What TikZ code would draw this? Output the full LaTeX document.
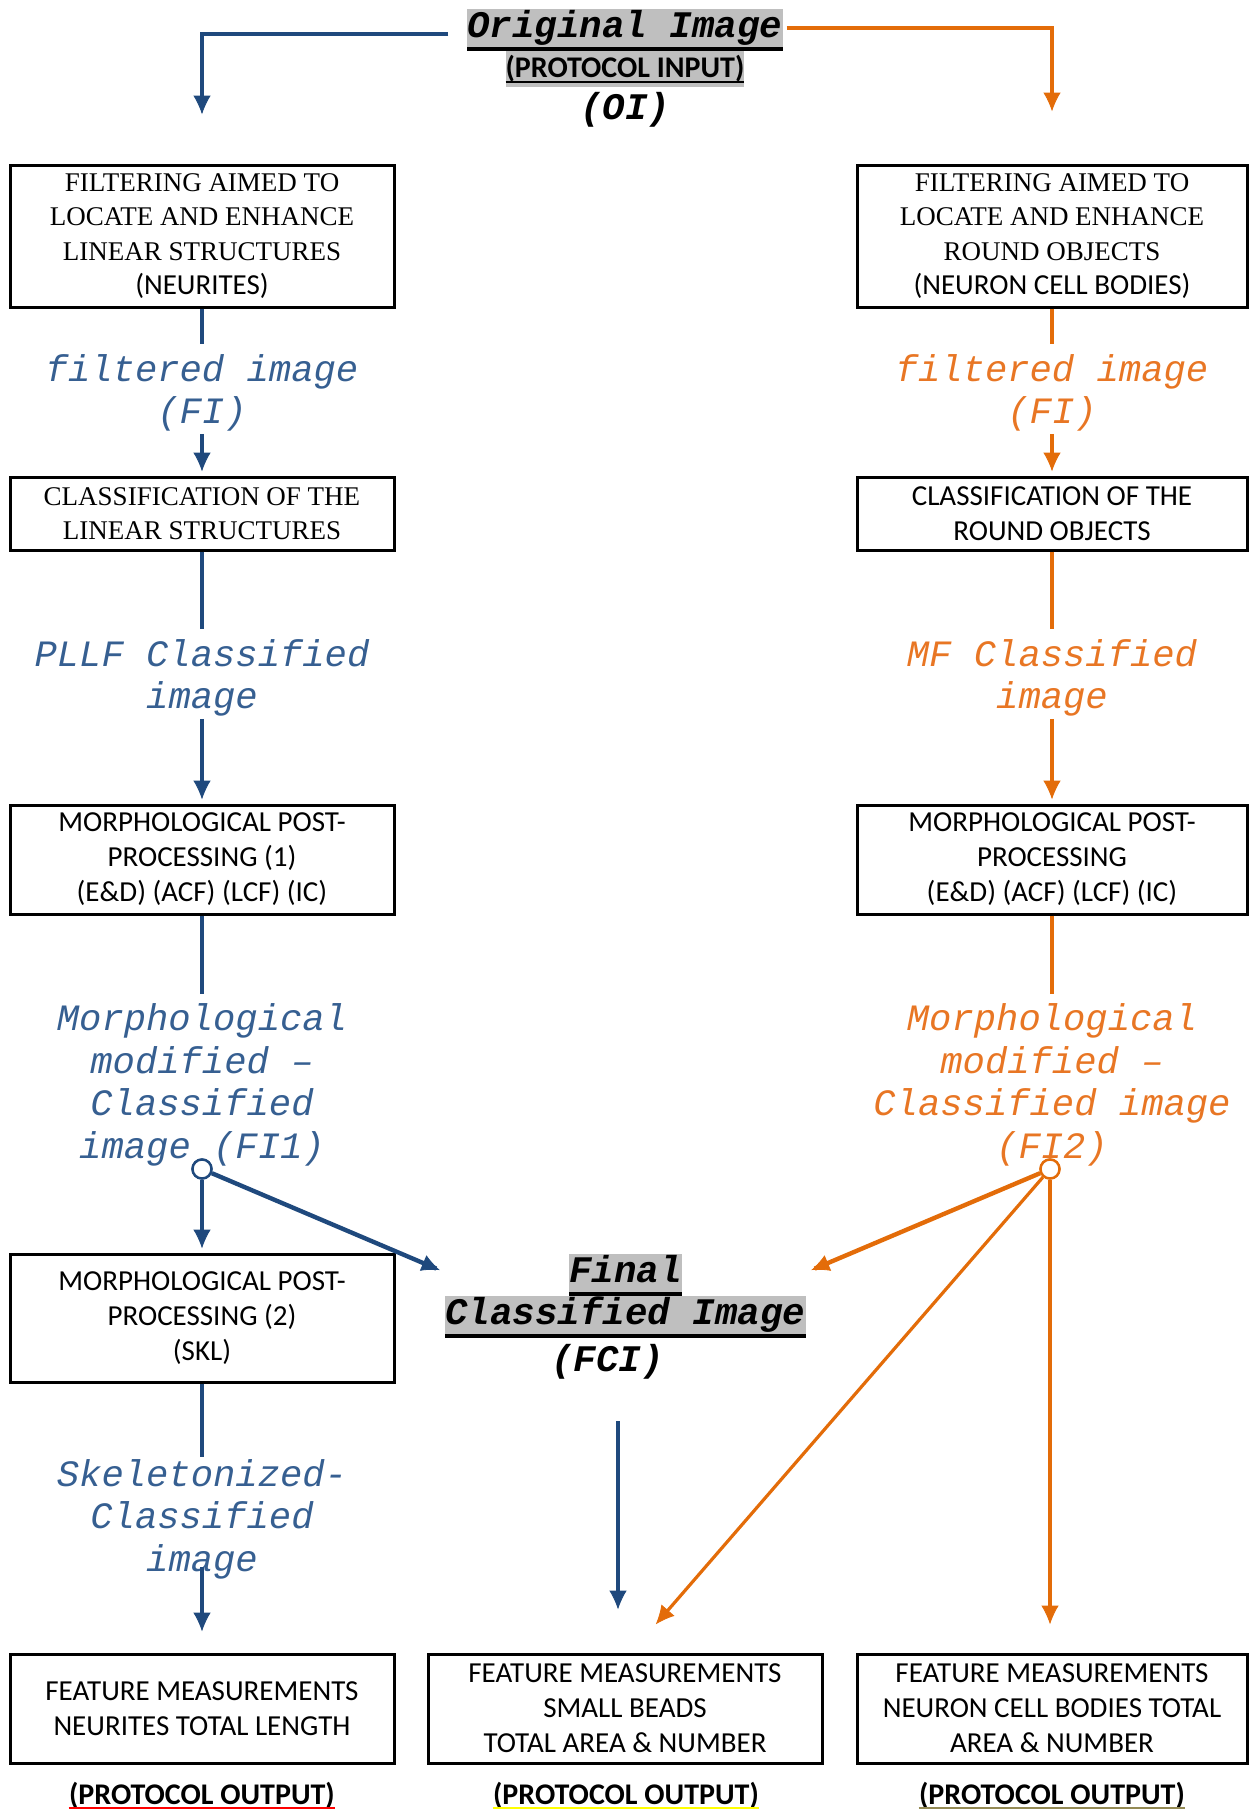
\documentclass[tikz,border=0pt]{standalone}
\usepackage{fontspec}
\setmainfont{Carlito}
\newfontfamily\courierfont{Liberation Mono}
\newfontfamily\cambriafont{Liberation Serif}
\newfontfamily\calibrifont{Carlito}
\newcommand{\calfont}{\calibrifont\fontsize{14.5}{17.25}\selectfont}
\usepackage{xcolor}
\definecolor{dblue}{RGB}{31,73,125}
\definecolor{tblue}{RGB}{54,95,145}
\definecolor{dorange}{RGB}{227,108,9}
\definecolor{torange}{RGB}{232,118,36}
\definecolor{hgray}{RGB}{191,191,191}
\definecolor{uyellow}{RGB}{255,255,0}
\definecolor{uolive}{RGB}{148,138,84}
\usetikzlibrary{positioning, calc, arrows.meta, decorations.markings}
\tikzstyle{ArrowBlue} = [
line width=1.6pt,
dblue,
decoration={
markings,
mark=at position 0.9999 with {
\arrow[dblue]{Latex[length=12pt, width=11pt]}}},
shorten >= 5pt, preaction = {decorate}]
\tikzstyle{ArrowBlueThick} = [
line width=2.2pt,
dblue,
decoration={
markings,
mark=at position 0.9999 with {
\arrow[dblue]{Latex[length=13pt, width=12pt]}}},
shorten >= 5pt, preaction = {decorate}]
\tikzstyle{ArrowOrange} = [
line width=1.6pt,
dorange,
decoration={
markings,
mark=at position 0.9999 with {
\arrow[dorange]{Latex[length=12pt, width=11pt]}}},
shorten >= 5pt, preaction = {decorate}]
\tikzstyle{ArrowOrangeThick} = [
line width=2.2pt,
dorange,
decoration={
markings,
mark=at position 0.9999 with {
\arrow[dorange]{Latex[length=13pt, width=12pt]}}},
shorten >= 5pt, preaction = {decorate}]
\tikzstyle{LineBlue} = [line width=1.6pt, dblue, shorten >= 4pt]
\tikzstyle{LineOrange} = [line width=1.6pt, dorange, shorten >= 4pt]
\tikzstyle{Box} = [draw, line width=1.5pt, align=center, inner sep=0pt,
font=\fontsize{14.5}{17.5}\selectfont]
\tikzstyle{BoxL} = [Box, minimum width=192pt]
\tikzstyle{BoxR} = [Box, minimum width=195pt]
\tikzstyle{BoxM} = [Box, minimum width=197pt]
\tikzstyle{Serif} = [font=\cambriafont\fontsize{13.5}{17.25}\selectfont]
\tikzstyle{BlueText} = [align=center, inner sep=1pt, tblue,
font=\courierfont\itshape\fontsize{18.6}{21.25}\selectfont]
\tikzstyle{OrangeText} = [BlueText, torange]
\tikzstyle{Mark} = [fill=hgray, inner sep=0pt, outer sep=0pt,
text height=14.5pt, text depth=6.5pt,
font=\courierfont\bfseries\itshape\fontsize{18.75}{21}\selectfont]
\tikzstyle{MarkSans} = [fill=hgray, inner sep=0pt, outer sep=0pt,
text height=13.5pt, text depth=4.5pt,
font=\bfseries\fontsize{15}{18}\selectfont]
\tikzstyle{Black} = [inner sep=0pt,
font=\courierfont\bfseries\itshape\fontsize{18.75}{21}\selectfont]
\tikzstyle{Output} = [inner sep=0pt, anchor=base,
font=\bfseries\fontsize{15}{18}\selectfont]
\tikzstyle{Dot} = [circle, fill=white, line width=1.2pt, minimum size=9.5pt, inner sep=0pt]

\begin{document}
\begin{tikzpicture}[x=0.5pt, y=-0.5pt]
    \useasboundingbox (0,0) rectangle (1249,1809);

    % input
    \node [Mark] (1) at (625,30) {Original Image};
    \node [MarkSans, below=0pt of 1] (2) {(PROTOCOL INPUT)};
    \node [Black, below=2.5pt of 2] (3) {(OI)};
    \draw [line width=2pt] ([yshift=1pt]1.south west) -- ([yshift=1pt]1.south east);
    \draw [line width=1pt] ([yshift=2.5pt]2.south west) -- ([yshift=2.5pt]2.south east);

    % two columns
    \node [BoxL, Serif, minimum height=71pt] (4) at (202,236) {FILTERING AIMED TO\\LOCATE AND ENHANCE\\LINEAR STRUCTURES\\\calfont (NEURITES)};
    \node [BoxR, Serif, minimum height=71pt] (5) at (1052,236) {FILTERING AIMED TO\\LOCATE AND ENHANCE\\ROUND OBJECTS\\\calfont (NEURON CELL BODIES)};
    \node [BlueText] (6) at (202,393) {filtered image\\(FI)};
    \node [OrangeText] (7) at (1052,393) {filtered image\\(FI)};
    \node [BoxL, Serif, minimum height=36.5pt] (8) at (202,513.5) {CLASSIFICATION OF THE\\LINEAR STRUCTURES};
    \node [BoxR, minimum height=36.5pt] (9) at (1052,513.5) {CLASSIFICATION OF THE\\ROUND OBJECTS};
    \node [BlueText] (10) at (202,678) {PLLF Classified\\image};
    \node [OrangeText] (11) at (1052,678) {MF Classified\\image};
    \node [BoxL, minimum height=54.5pt] (12) at (202,859.5) {MORPHOLOGICAL POST-\\PROCESSING (1)\\(E\&D) (ACF) (LCF) (IC)};
    \node [BoxR, minimum height=54.5pt] (13) at (1052,859.5) {MORPHOLOGICAL POST-\\PROCESSING\\(E\&D) (ACF) (LCF) (IC)};
    \node [BlueText] (14) at (202,1085) {Morphological\\modified –\\Classified\\image (FI1)};
    \node [OrangeText] (15) at (1052,1085) {Morphological\\modified –\\Classified image\\(FI2)};
    \node [Dot, draw=dblue] (16) at (202,1169) {};
    \node [Dot, draw=dorange] (17) at (1050,1169) {};
    \node [BoxL, minimum height=64pt] (18) at (202,1318) {MORPHOLOGICAL POST-\\PROCESSING (2)\\(SKL)};

    % final image
    \node [Mark] (19) at (625.5,1274.5) {Final};
    \node [Mark, below=0pt of 19] (20) {Classified Image};
    \node [Black, below=3pt of 20, xshift=-9pt] (21) {(FCI)};
    \draw [line width=2pt] ([yshift=1pt]19.south west) -- ([yshift=1pt]19.south east);
    \draw [line width=2pt] ([yshift=1pt]20.south west) -- ([yshift=1pt]20.south east);

    \node [BlueText] (22) at (202,1519) {Skeletonized-\\Classified\\image};

    % outputs
    \node [BoxL, minimum height=54.5pt] (23) at (202,1708.5) {FEATURE MEASUREMENTS\\NEURITES TOTAL LENGTH};
    \node [BoxM, minimum height=54.5pt] (24) at (625,1708.5) {FEATURE MEASUREMENTS\\SMALL BEADS\\TOTAL AREA \& NUMBER};
    \node [BoxR, minimum height=54.5pt] (25) at (1052,1708.5) {FEATURE MEASUREMENTS\\NEURON CELL BODIES TOTAL\\AREA \& NUMBER};
    \node [Output] (26) at (202,1804) {(PROTOCOL OUTPUT)};
    \node [Output] (27) at (626,1804) {(PROTOCOL OUTPUT)};
    \node [Output] (28) at (1052,1804) {(PROTOCOL OUTPUT)};
    \draw [red, line width=1pt] ([yshift=-1.75pt]26.base west) -- ([yshift=-1.75pt]26.base east);
    \draw [uyellow, line width=1pt] ([yshift=-1.75pt]27.base west) -- ([yshift=-1.75pt]27.base east);
    \draw [uolive, line width=1pt] ([yshift=-1.75pt]28.base west) -- ([yshift=-1.75pt]28.base east);

    \draw [ArrowBlue] ([xshift=-9.5pt, yshift=-2pt]1.west) -| ([yshift=22.5pt]4.north);
    \draw [ArrowOrange] ([xshift=2pt, yshift=1pt]1.east) -| ([yshift=24pt]5.north);
    \draw [LineBlue] (4.south) -- (6.north);
    \draw [ArrowBlue] (6.south) -- (8.north);
    \draw [LineOrange] (5.south) -- (7.north);
    \draw [ArrowOrange] (7.south) -- (9.north);
    \draw [LineBlue] (8.south) -- (10.north);
    \draw [ArrowBlue] (10.south) -- (12.north);
    \draw [LineOrange] (9.south) -- (11.north);
    \draw [ArrowOrange] (11.south) -- (13.north);
    \draw [LineBlue] (12.south) -- (14.north);
    \draw [LineOrange] (13.south) -- (15.north);
    \draw [ArrowBlue] (16) -- (16 |- 18.north);
    \draw [ArrowBlueThick] (16) -- ([yshift=11.5pt]20.north west);
    \draw [ArrowOrangeThick] (17) -- ([yshift=11.5pt]20.north east);
    \draw [ArrowOrange] (17) -- ([xshift=14pt, yshift=12.5pt]24.north);
    \draw [ArrowOrange] (17) -- ([yshift=12pt]17 |- 25.north);
    \draw [ArrowBlue, shorten <=21pt] ([xshift=-3.5pt]21.south -| 24.north) -- ([xshift=-3.5pt, yshift=19.5pt]24.north);
    \draw [LineBlue, shorten >= 0pt] (18.south) -- (22.north);
    \draw [ArrowBlue] ([yshift=7pt]22.south) -- ([yshift=8.5pt]23.north);
    \node [Dot, draw=dblue] at (16) {};
    \node [Dot, draw=dorange] at (17) {};
\end{tikzpicture}
\end{document}
